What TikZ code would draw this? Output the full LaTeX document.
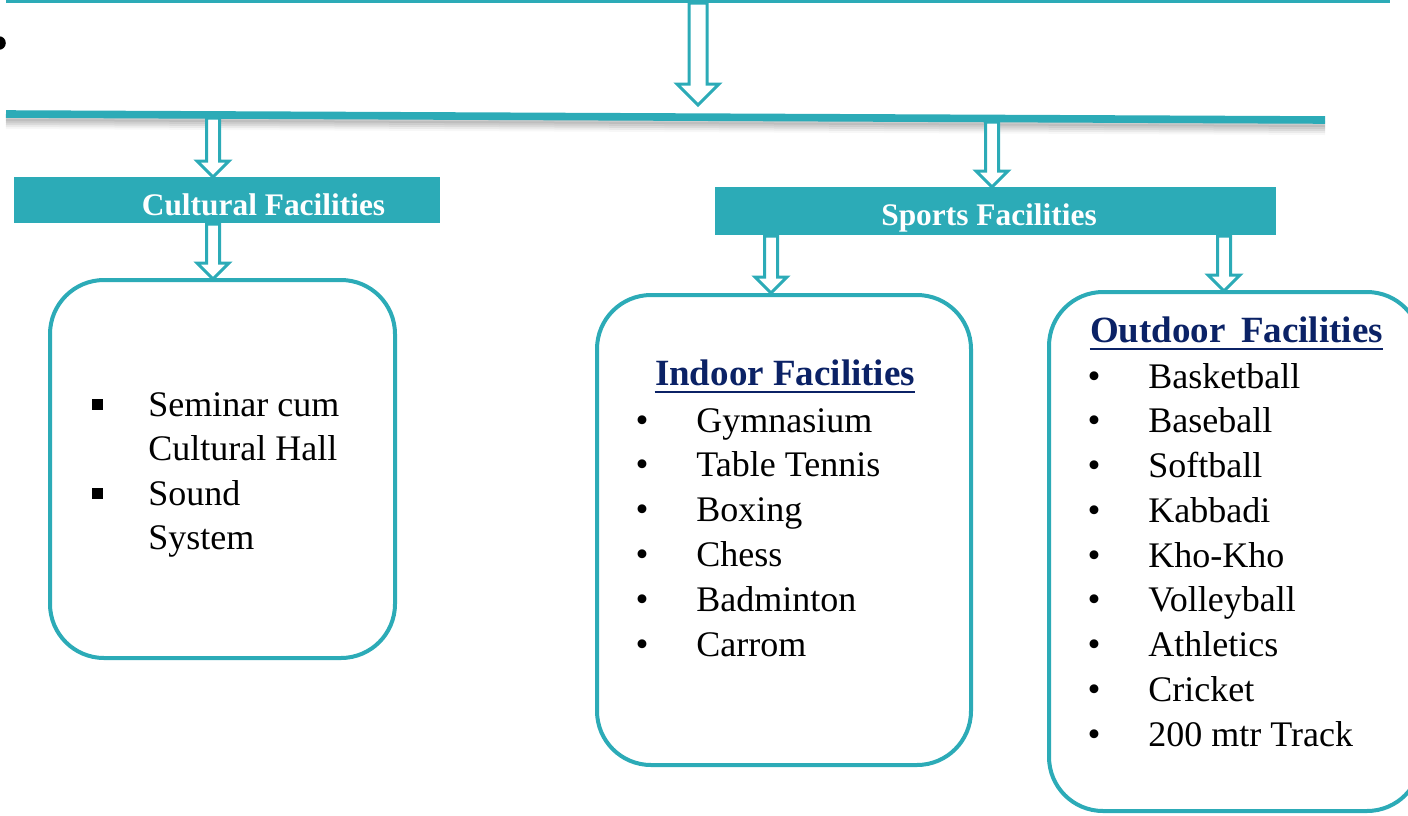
\documentclass[tikz,border=0pt]{standalone}
\usepackage{fontspec}
\setmainfont{Liberation Serif}
\usetikzlibrary{calc}
\definecolor{teal1}{HTML}{2CABB7}
\definecolor{navy}{HTML}{0B2266}
\newcommand\hollowarrow[4]{% start, tip, shaft half width, head half width (px)
  \draw[harrow] ([shift={(-#3,0)}]#1) -- ([shift={(-#3,-#4)}]#2) -- ([shift={(-#4,-#4)}]#2) -- (#2)
    -- ([shift={(#4,-#4)}]#2) -- ([shift={(#3,-#4)}]#2) -- ([shift={(#3,0)}]#1) -- cycle;}
\begin{document}
\begin{tikzpicture}[x=0.5pt,y=-0.5pt,
  harrow/.style={draw=teal1, fill=white, line width=1.5pt, line join=miter},
  barbox/.style={fill=teal1, inner sep=0pt},
  listbox/.style={draw=teal1, line width=2pt, rounded corners=27pt, fill=white, inner sep=0pt},
  item/.style={anchor=base west, inner sep=0pt, font=\fontsize{18}{21}\selectfont},
  bul/.style={anchor=base, inner sep=0pt, font=\fontsize{18.5}{21}\selectfont},
  head/.style={anchor=base, inner sep=0pt, font=\fontsize{18.5}{22}\selectfont\bfseries, text=navy},
  bartext/.style={text=white, font=\fontsize{15.7}{18}\selectfont\bfseries, inner sep=0pt, anchor=base}]
\useasboundingbox (0,0) rectangle (1408,815);
\clip (0,0) rectangle (1408,815);

% left partial bullet
\fill[black] (-1,43) circle (3.4pt);

% top line
\coordinate (tl1) at (6,1.5);
\coordinate (tl2) at (1390,1.5);
\draw[teal1, line width=1.6pt] (tl1) -- (tl2);

% second line with shadow
\coordinate (ml1) at (6,114);
\coordinate (ml2) at (1325,120);
\foreach \d/\o in {4/0.12,6/0.09,8/0.07,10/0.05,12/0.03}
  \draw[black, opacity=\o, line width=3pt] ([yshift=-\d*0.5pt]ml1) -- ([yshift=-\d*0.5pt]ml2);
\draw[teal1, line width=3.8pt] (ml1) -- (ml2);

% bars
\node[barbox, minimum width=213pt, minimum height=23pt] (cbar) at (227,200) {};
\node[barbox, minimum width=280.5pt, minimum height=24pt] (sbar) at (995.5,211) {};
\node[bartext] (ctext) at (263.5,215) {Cultural Facilities};
\node[bartext] (stext) at (989,225) {Sports Facilities};

% boxes
\node[listbox, minimum width=172.5pt, minimum height=189pt] (cbox) at (222.5,469) {};
\node[listbox, minimum width=187pt, minimum height=235pt] (ibox) at (784,530) {};
\node[listbox, minimum width=186pt, minimum height=259.5pt] (obox) at (1235,551.5) {};

% arrow end points
\coordinate (a0s) at (698,3);   \coordinate (a0e) at (698,105);
\coordinate (a1s) at (213,118); \coordinate (a1e) at (213,177);
\coordinate (a2s) at (213,224); \coordinate (a2e) at (213,279);
\coordinate (a3s) at (992,122); \coordinate (a3e) at (992,187);
\coordinate (a4s) at (771,236); \coordinate (a4e) at (771,293);
\coordinate (a5s) at (1224,236); \coordinate (a5e) at (1224,291);

\hollowarrow{a0s}{a0e}{9}{21}
\hollowarrow{a1s}{a1e}{6.5}{16}
\hollowarrow{a2s}{a2e}{6.5}{16}
\hollowarrow{a3s}{a3e}{6.5}{16}
\hollowarrow{a4s}{a4e}{6.5}{16}
\hollowarrow{a5s}{a5e}{6.5}{16}

% cultural list
\fill[black] (92,399) rectangle (103,410);
\fill[black] (92,488) rectangle (103,499);
\node[item] (c1) at (148,416) {Seminar cum};
\node[item] (c2) at (148,460) {Cultural Hall};
\node[item] (c3) at (148,505) {Sound};
\node[item] (c4) at (148,549) {System};

% indoor list
\node[head] (ih) at (785,385) {Indoor Facilities};
\draw[navy, line width=1.3pt] ([yshift=-3.5pt]ih.base west) -- ([yshift=-3.5pt]ih.base east);
\foreach \t [count=\k] in {Gymnasium,Table Tennis,Boxing,Chess,Badminton,Carrom}{
  \node[bul] (ib\k) at (642,{432+44.8*(\k-1)}) {•};
  \node[item] (ii\k) at (696,{432+44.8*(\k-1)}) {\t};
}

% outdoor list
\node[head] (oh) at (1236.5,342) {Outdoor\hspace{3pt} Facilities};
\draw[navy, line width=1.3pt] ([yshift=-3.5pt]oh.base west) -- ([yshift=-3.5pt]oh.base east);
\foreach \t [count=\k] in {Basketball,Baseball,Softball,Kabbadi,Kho-Kho,Volleyball,Athletics,Cricket,200 mtr Track}{
  \node[bul] (ob\k) at (1094,{388+44.75*(\k-1)}) {•};
  \node[item] (oi\k) at (1148,{388+44.75*(\k-1)}) {\t};
}
\end{tikzpicture}
\end{document}
